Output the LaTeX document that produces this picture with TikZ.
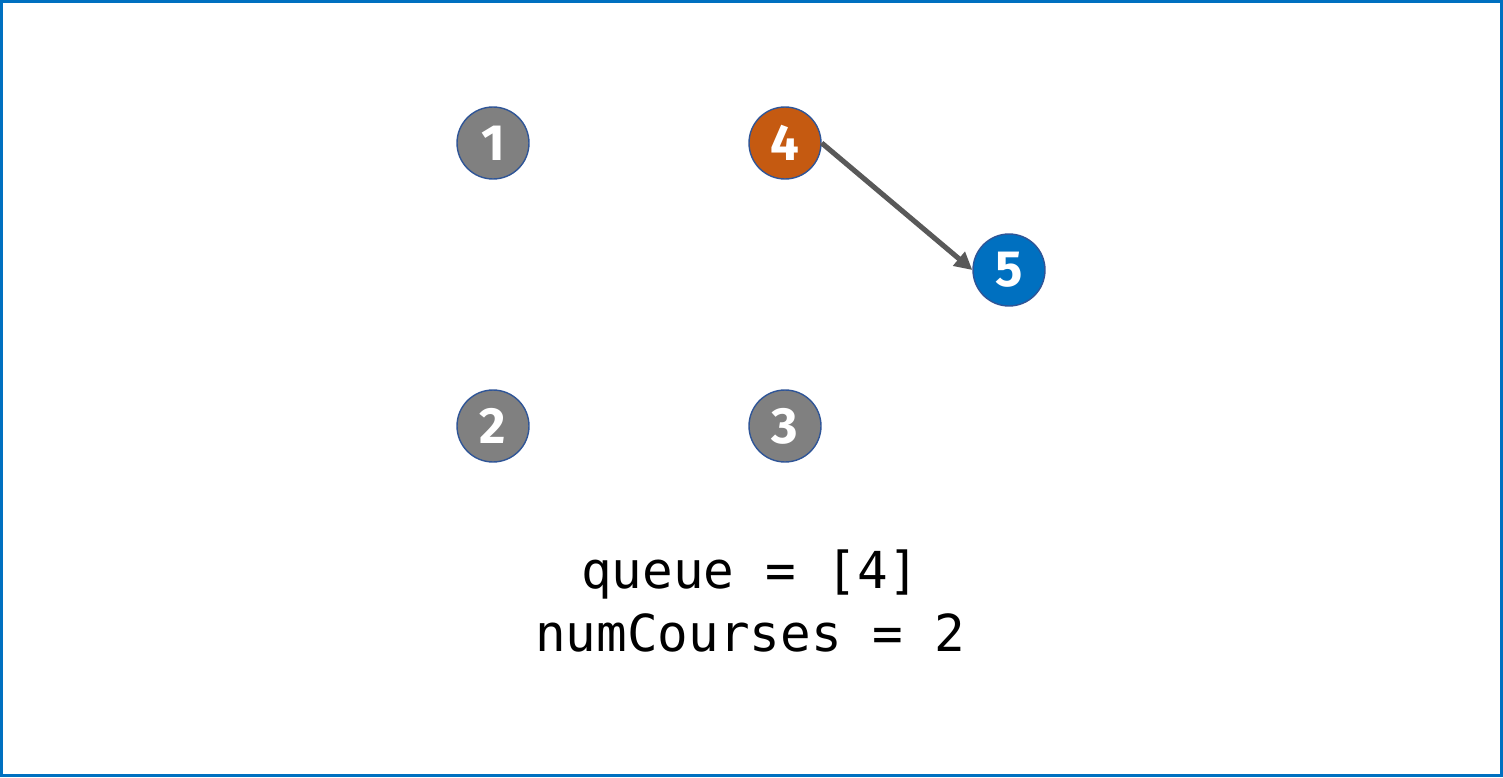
\documentclass[tikz,border=0pt]{standalone}
\usepackage{fontspec}
\setsansfont{Fira Sans}
\setmonofont{DejaVu Sans Mono}
\usepackage{tikz}
\usetikzlibrary{arrows.meta}
\definecolor{FrameBlue}{HTML}{0070C0}
\definecolor{RingBlue}{HTML}{2F5597}
\definecolor{NodeGray}{HTML}{808080}
\definecolor{NodeOrange}{HTML}{C55A11}
\definecolor{EdgeGray}{HTML}{595959}
\tikzset{
course/.style={circle, draw=RingBlue, line width=0.8pt, minimum size=1.44cm, inner sep=0pt,
  text=white, font=\sffamily\bfseries\fontsize{29}{29}\selectfont},
}

\begin{document}
\begin{tikzpicture}[
  x=0.02cm, y=-0.02cm,
  idle/.style={course, fill=NodeGray},
  cur/.style={course, fill=NodeOrange},
  nxt/.style={course, fill=FrameBlue},
  edge/.style={draw=EdgeGray, line width=2.9pt, -{Triangle[length=10pt,width=10pt]}},
  state/.style={font=\ttfamily\fontsize{29}{36}\selectfont, align=center},
]
%% frame fixes the page size
\useasboundingbox (0,0) rectangle (1503,777);
\draw[FrameBlue, line width=1.7pt] (1.5,1.5) rectangle (1501.5,775.5);

%% ---- courses ----
\node[idle] (c1) at (493,143) {1};
\node[idle] (c2) at (493,426) {2};
\node[idle] (c3) at (785,426) {3};
\node[cur]  (c4) at (785,143) {4};
\node[nxt]  (c5) at (1009,270) {5};

\draw[edge] (c4.east) -- (c5.west);

%% ---- state ----
\node[state] (st) at (750,601) {queue = [4]\\numCourses = 2};
\end{tikzpicture}
\end{document}
